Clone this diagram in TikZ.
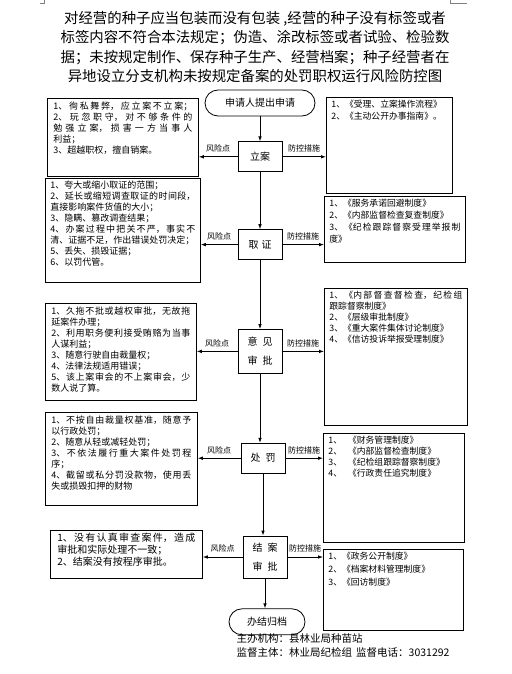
\documentclass[tikz,border=0pt]{standalone}
\usepackage{fontspec}
\setmainfont{Noto Sans CJK SC}
\usetikzlibrary{positioning, arrows.meta}
\XeTeXlinebreaklocale "zh"
\XeTeXlinebreakskip = 0pt plus 2pt
\hbadness=10000
\newcommand{\boxtxt}[3]{\parbox[t][#2][t]{#1}{#3}}

\begin{document}
\begin{tikzpicture}[x=1pt, y=-1pt, line width=0.8pt, >={Latex[length=5pt,width=3.6pt]},
    stage/.style = {draw, minimum width=44pt, minimum height=30pt, align=center,
                    font=\fontsize{10}{19}\selectfont},
    term/.style = {draw, rounded corners=13pt, minimum height=26pt,
                   font=\fontsize{10}{12}\selectfont},
    riskbox/.style = {draw, anchor=north west, inner xsep=6pt, inner ysep=3pt,
                      font=\fontsize{9}{11}\selectfont},
    ctrlbox/.style = {draw, anchor=north west, inner xsep=5pt, inner ysep=3pt,
                      font=\fontsize{8.8}{11.5}\selectfont},
    tag/.style = {font=\fontsize{8}{9}\selectfont, inner sep=1pt}]
        \useasboundingbox (0,0) rectangle (511,674);

        % page corner marks
        \draw[gray, line width=0.6pt] (44,0) -- (44,3) -- (40,3);
        \draw[gray, line width=0.6pt] (450,0) -- (450,3) -- (467,3);

        \node[align=center, font=\fontsize{14.4}{19.3}\selectfont] (title) at (255,47)
            {对经营的种子应当包装而没有包装 ,经营的种子没有标签或者\\
             标签内容不符合本法规定；伪造、涂改标签或者试验、检验数\\
             据；未按规定制作、保存种子生产、经营档案；种子经营者在\\
             异地设立分支机构未按规定备案的处罚职权运行风险防控图};

        % main flow
        \node[term, minimum width=110pt] (start) at (260,103) {申请人提出申请};
        \node[stage] (lian) [below=25pt of start] {立案};
        \node[stage] (quzheng) [below=57pt of lian] {取\hspace{3pt}证};
        \node[stage, minimum height=44pt] (shenpi) [below=69pt of quzheng]
            {意\hspace{5pt}见\\审\hspace{5pt}批};
        \node[stage] (chufa) [below=69pt of shenpi, xshift=3pt] {处\hspace{5pt}罚};
        \node[stage, minimum height=42pt] (jiean) [below=62pt of chufa, xshift=2pt]
            {结\hspace{5pt}案\\审\hspace{5pt}批};
        \node[term, minimum width=76pt] (banjie) [below=30pt of jiean, xshift=2pt] {办结归档};

        % risk points
        \node[riskbox] (risk1) at (47,98) {\boxtxt{139pt}{72pt}{1、徇私舞弊，应立案不立案；\linebreak
            2、玩忽职守，对不够条件的\linebreak 勉强立案，损害一方当事人\linebreak 利益；\\
            3、超越职权，擅自销案。}};
        \node[riskbox, inner xsep=5pt, font=\fontsize{9}{10.9}\selectfont] (risk2) at (45,178)
            {\boxtxt{145pt}{98pt}{1、夸大或缩小取证的范围；\\2、延长或缩短调查取证的时间段，\linebreak
            直接影响案件货值的大小；\\3、隐瞒、篡改调查结果；\\4、办案过程中把关不严，事实不\linebreak
            清、证据不足，作出错误处罚决定；\\5、丢失、损毁证据；\\6、以罚代管。}};
        \node[riskbox] (risk3) at (45,303) {\boxtxt{139pt}{91pt}{1、久拖不批或越权审批，无故拖\linebreak
            延案件办理；\\2、利用职务便利接受贿赂为当事\linebreak 人谋利益；\\3、随意行驶自由裁量权；\\
            4、法律法规适用错误；\\5、该上案审会的不上案审会，少\linebreak 数人说了算。}};
        \node[riskbox] (risk4) at (45,412) {\boxtxt{140pt}{87pt}{1、不按自由裁量权基准，随意予\linebreak
            以行政处罚；\\2、随意从轻或减轻处罚；\\3、不依法履行重大案件处罚程\linebreak 序；\\
            4、截留或私分罚没款物，使用丢\linebreak 失或损毁扣押的财物}};
        \node[riskbox, inner xsep=7pt, font=\fontsize{10}{12}\selectfont] (risk5) at (50,530)
            {\boxtxt{138pt}{42pt}{1、没有认真审查案件，造成\linebreak 审批和实际处理不一致；\\
            2、结案没有按程序审批。}};

        % control measures
        \node[ctrlbox] (ctrl1) at (326,97) {\boxtxt{116pt}{90pt}{1、《受理、立案操作流程》\\
            2、《主动公开办事指南》。}};
        \node[ctrlbox, font=\fontsize{8.8}{12}\selectfont] (ctrl2) at (324,196)
            {\boxtxt{131pt}{60pt}{1、《服务承诺回避制度》\\2、《内部监督检查复查制度》\\
            3、《纪检跟踪督察受理举报制\linebreak 度》}};
        \node[ctrlbox, font=\fontsize{8.8}{11}\selectfont] (ctrl3) at (324,288)
            {\boxtxt{133pt}{131pt}{1、《内部督查督检查，纪检组\linebreak 跟踪督察制度》\\2、《层级审批制度》\\
            3、《重大案件集体讨论制度》\\4、《信访投诉举报受理制度》}};
        \node[ctrlbox, font=\fontsize{8.8}{10.8}\selectfont] (ctrl4) at (323,433)
            {\boxtxt{131pt}{103pt}{1、\hspace{6pt}《财务管理制度》\\2、\hspace{6pt}《内部监督检查制度》\\
            3、\hspace{6pt}《纪检组跟踪督察制度》\\4、\hspace{6pt}《行政责任追究制度》}};
        \node[ctrlbox, font=\fontsize{8.8}{13}\selectfont] (ctrl5) at (323,549)
            {\boxtxt{130pt}{75pt}{1、《政务公开制度》\\2、《档案材料管理制度》\\3、《回访制度》}};

        \node[anchor=west, align=left, font=\fontsize{10.5}{14}\selectfont] (footer) at (233,645)
            {主办机构：县林业局种苗站\\监督主体：林业局纪检组\hspace{4pt}监督电话：3031292};

        % flow arrows
        \draw[->] (start.south) -- (start.south |- lian.north);
        \draw[->] (lian.south) -- (lian.south |- quzheng.north);
        \draw[->] (quzheng.south) -- (quzheng.south |- shenpi.north);
        \draw[->] (shenpi.south) -- (shenpi.south |- chufa.north);
        \draw[->] (chufa.south) -- (chufa.south |- jiean.north);
        \draw[->] (jiean.south) -- (jiean.south |- banjie.north);

        % side arrows
        \foreach \st/\n in {lian/1, quzheng/2, shenpi/3, chufa/4, jiean/5} {
            \draw[->] (\st.west) -- (\st.west -| risk\n.east)
                node[tag, midway, above=3pt] {风险点};
            \draw[->] (\st.east) -- (\st.east -| ctrl\n.west)
                node[tag, midway, above=3pt] {防控措施};
        }
\end{tikzpicture}
\end{document}
